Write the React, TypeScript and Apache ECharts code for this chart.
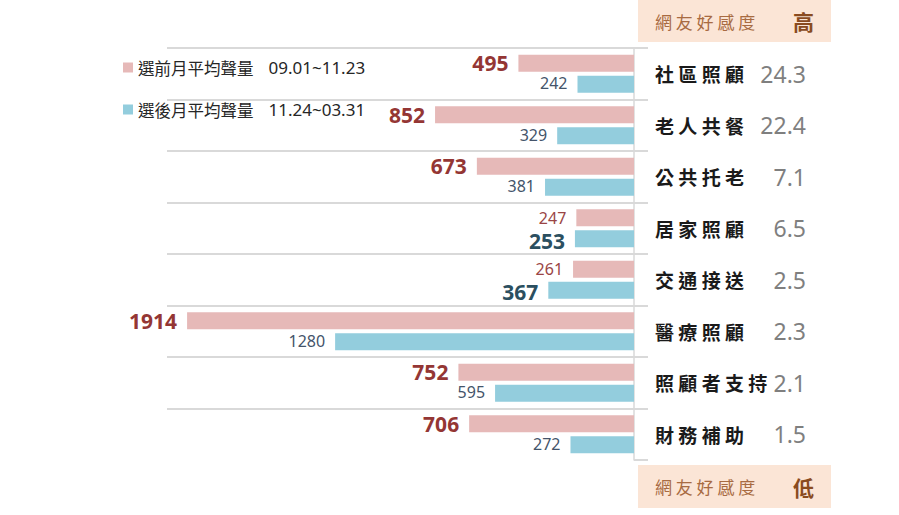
import { useEffect, useRef } from 'react'
import * as echarts from 'echarts'

const categories = ['社區照顧', '老人共餐', '公共托老', '居家照顧', '交通接送', '醫療照顧', '照顧者支持', '財務補助']
const scores = ['24.3', '22.4', '7.1', '6.5', '2.5', '2.3', '2.1', '1.5']
const beforeValues = [495, 852, 673, 247, 261, 1914, 752, 706]
const afterValues = [242, 329, 381, 253, 367, 1280, 595, 272]
const seriesNames = ['選前月平均聲量', '選後月平均聲量']
const periods = ['09.01~11.23', '11.24~03.31']
const headerText = '網友好感度'
const headerHigh = '高'
const headerLow = '低'

const CJK = '"Noto Sans CJK TC", "Noto Sans", sans-serif'
const NUM = '"Noto Sans", "DejaVu Sans", sans-serif'

const spaced = (s: string) => s.split('').join(' ')

export default function App() {
  const chartRef = useRef<HTMLDivElement>(null)

  useEffect(() => {
    if (!chartRef.current) return
    const chart = echarts.init(chartRef.current, null, { renderer: 'svg' })

    // 較大的一方用粗體大字
    const barData = (values: number[], other: number[], big: string, small: string, shift: number) =>
      values.map((v, i) => {
        const strong = v > other[i]
        return {
          value: v,
          label: strong
            ? { fontSize: 21, lineHeight: 19, fontWeight: 'bold' as const, color: big, offset: [0, shift] }
            : { fontSize: 16, lineHeight: 15, fontWeight: 'normal' as const, color: small, offset: [0, -shift / 2] }
        }
      })

    const header = (top: number, h: number, mark: string) => [
      {
        type: 'rect',
        shape: { x: 638, y: top, width: 193, height: h },
        style: { fill: '#fbe5d6' },
        silent: true
      },
      {
        type: 'text',
        x: 655,
        y: top + h / 2,
        style: {
          text: spaced(headerText),
          fontSize: 17,
          fontFamily: CJK,
          fill: '#a86b42',
          verticalAlign: 'middle',
          textVerticalAlign: 'middle'
        }
      },
      {
        type: 'text',
        x: 793,
        y: top + h / 2,
        style: {
          text: mark,
          fontSize: 21,
          fontWeight: 'bold',
          fontFamily: CJK,
          fill: '#8a4b1f',
          verticalAlign: 'middle',
          textVerticalAlign: 'middle'
        }
      }
    ]

    const option: echarts.EChartsOption = {
      animation: false,
      backgroundColor: '#ffffff',
      legend: {
        data: seriesNames,
        orient: 'vertical',
        left: 123,
        top: 59,
        padding: 0,
        itemGap: 25,
        itemWidth: 10,
        itemHeight: 10,
        icon: 'rect',
        formatter: (name: string) => `{n|${name}}{d|${periods[seriesNames.indexOf(name)]}}`,
        textStyle: {
          color: '#262626',
          rich: {
            n: { fontSize: 16.5, fontFamily: CJK, color: '#262626' },
            d: { fontSize: 17, fontFamily: NUM, color: '#262626', padding: [0, 0, 0, 15] }
          }
        }
      },
      grid: { left: 167, right: 265, top: 48, bottom: 55 },
      xAxis: {
        type: 'value',
        min: 0,
        max: 2000,
        inverse: true,
        show: false
      },
      yAxis: [
        {
          type: 'category',
          data: categories,
          inverse: true,
          position: 'right',
          axisLine: { show: true, lineStyle: { color: '#d9d9d9', width: 1.5 } },
          axisTick: { show: true, length: 14, lineStyle: { color: '#d9d9d9', width: 2 } },
          splitLine: { show: true, showMaxLine: false, lineStyle: { color: '#d9d9d9', width: 2 } } as any,
          axisLabel: {
            margin: 21,
            align: 'left',
            formatter: (v: string) => spaced(v),
            fontSize: 19,
            fontWeight: 'bold',
            color: '#1a1a1a',
            fontFamily: CJK
          }
        },
        {
          type: 'category',
          data: categories,
          inverse: true,
          position: 'right',
          axisLine: { show: false },
          axisTick: { show: false },
          splitLine: { show: false },
          axisLabel: {
            margin: 172,
            align: 'right',
            formatter: (_v: string, i: number) => scores[i],
            fontSize: 23,
            color: '#7f7f7f',
            fontFamily: NUM
          }
        }
      ],
      series: [
        {
          name: seriesNames[0],
          type: 'bar',
          yAxisIndex: 0,
          barWidth: 17,
          barGap: '24%',
          data: barData(beforeValues, afterValues, '#943634', '#9a4545', 0),
          itemStyle: { color: '#e6b9b8' },
          label: { show: true, position: 'left', distance: 10, fontFamily: NUM }
        },
        {
          name: seriesNames[1],
          type: 'bar',
          yAxisIndex: 0,
          barWidth: 17,
          barGap: '24%',
          data: barData(afterValues, beforeValues, '#2b4f60', '#44546a', 2),
          itemStyle: { color: '#93cddd' },
          label: { show: true, position: 'left', distance: 10, fontFamily: NUM }
        }
      ],
      graphic: [...header(0, 42, headerHigh), ...header(465, 43, headerLow)] as any
    }

    chart.setOption(option)

    return () => {
      chart.dispose()
    }
  }, [])

  return (
    <div
      ref={chartRef}
      style={{ position: 'absolute', left: 0, top: 0, width: 899, height: 515 }}
    />
  )
}
